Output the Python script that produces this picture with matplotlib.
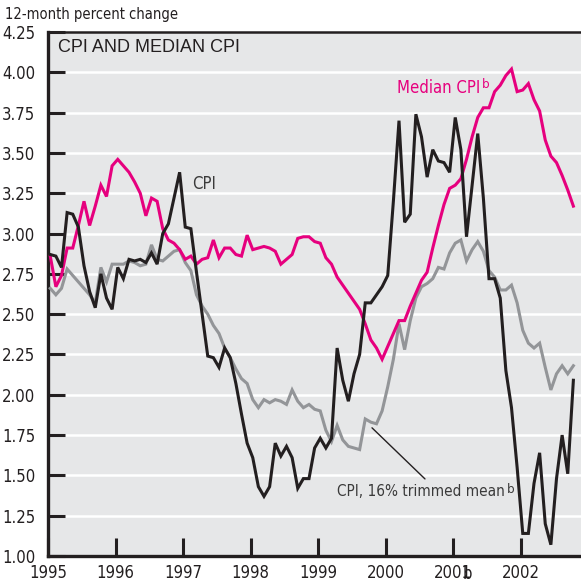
import numpy as np
import matplotlib
matplotlib.use("Agg")
import matplotlib.pyplot as plt

# 12-month percent change, monthly, Jan 1995 - Oct 2002
cpi = [2.87, 2.86, 2.79, 3.13, 3.12, 3.04, 2.80, 2.64, 2.54, 2.75, 2.60, 2.53,
       2.79, 2.72, 2.84, 2.83, 2.84, 2.82, 2.88, 2.81, 3.00, 3.06, 3.22, 3.38,
       3.04, 3.03, 2.76, 2.50, 2.24, 2.23, 2.17, 2.29, 2.23, 2.07, 1.88, 1.70,
       1.61, 1.43, 1.37, 1.43, 1.70, 1.62, 1.68, 1.61, 1.42, 1.48, 1.48, 1.67,
       1.73, 1.67, 1.73, 2.29, 2.09, 1.96, 2.13, 2.25, 2.57, 2.57, 2.62, 2.67,
       2.74, 3.20, 3.70, 3.07, 3.12, 3.74, 3.60, 3.35, 3.52, 3.45, 3.44, 3.38,
       3.72, 3.52, 2.98, 3.30, 3.62, 3.22, 2.72, 2.72, 2.60, 2.15, 1.92, 1.55,
       1.14, 1.14, 1.45, 1.64, 1.20, 1.07, 1.48, 1.75, 1.51, 2.09]

median_cpi = [2.86, 2.67, 2.74, 2.91, 2.91, 3.05, 3.20, 3.05, 3.17, 3.30, 3.23, 3.42,
              3.46, 3.42, 3.38, 3.32, 3.25, 3.11, 3.22, 3.20, 3.03, 2.96, 2.94, 2.90,
              2.84, 2.86, 2.81, 2.84, 2.85, 2.96, 2.85, 2.91, 2.91, 2.87, 2.86, 2.99,
              2.90, 2.91, 2.92, 2.91, 2.89, 2.81, 2.84, 2.87, 2.97, 2.98, 2.98, 2.95,
              2.94, 2.85, 2.81, 2.73, 2.68, 2.63, 2.58, 2.53, 2.44, 2.34, 2.29, 2.22,
              2.30, 2.38, 2.46, 2.46, 2.55, 2.63, 2.71, 2.76, 2.91, 3.05, 3.18, 3.28,
              3.30, 3.34, 3.46, 3.60, 3.72, 3.78, 3.78, 3.88, 3.92, 3.98, 4.02, 3.88,
              3.89, 3.93, 3.83, 3.76, 3.58, 3.48, 3.44, 3.36, 3.27, 3.17]

trimmed_mean = [2.66, 2.62, 2.66, 2.78, 2.74, 2.70, 2.66, 2.62, 2.57, 2.79, 2.70, 2.81,
                2.81, 2.81, 2.83, 2.82, 2.80, 2.81, 2.93, 2.84, 2.83, 2.86, 2.89, 2.90,
                2.82, 2.77, 2.62, 2.55, 2.50, 2.43, 2.38, 2.29, 2.23, 2.16, 2.10, 2.07,
                1.97, 1.92, 1.97, 1.95, 1.97, 1.96, 1.94, 2.03, 1.96, 1.92, 1.94, 1.91,
                1.90, 1.78, 1.71, 1.81, 1.72, 1.68, 1.67, 1.66, 1.85, 1.83, 1.82, 1.90,
                2.05, 2.22, 2.44, 2.28, 2.46, 2.60, 2.67, 2.69, 2.72, 2.79, 2.78, 2.88,
                2.94, 2.96, 2.83, 2.90, 2.95, 2.89, 2.77, 2.73, 2.65, 2.65, 2.68, 2.57,
                2.40, 2.32, 2.29, 2.32, 2.17, 2.03, 2.13, 2.18, 2.13, 2.18]

years = list(range(1995, 2003))
year_labels = [str(y) for y in years]
y_ticks = np.arange(1.0, 4.26, 0.25)

BLACK = "#231f20"
MAGENTA = "#e6007e"
GRAY = "#939598"
TEXT = "#3a3a3a"
BG = "#e6e7e8"

# narrow look for labels (no Helvetica Condensed available)
plt.rcParams["font.family"] = ["DejaVu Sans"]
plt.rcParams["font.stretch"] = "condensed"

months = np.arange(len(cpi))
x = 1995 + (months + 0.4) / 12

W, H = 581, 584
fig = plt.figure(figsize=(W / 100, H / 100), dpi=100)
ax = fig.add_axes([48 / W, 1 - 556 / H, 533 / W, 524 / H])
ax.set_facecolor(BG)

ax.set_xlim(1995, 1995 + 533 / 67.5)
ax.set_ylim(1.0, 4.25)

# white horizontal grid
for v in y_ticks[1:-1]:
    ax.axhline(v, color="white", lw=1.8, zorder=1)

ax.plot(x, trimmed_mean, color=GRAY, lw=2.2, zorder=3, solid_joinstyle="miter")
ax.plot(x, median_cpi, color=MAGENTA, lw=2.2, zorder=4, solid_joinstyle="miter")
ax.plot(x, cpi, color=BLACK, lw=2.2, zorder=5, solid_joinstyle="miter")

ax.set_yticks(y_ticks)
ax.set_yticklabels([f"{v:.2f}" for v in y_ticks])
ax.set_xticks(years)
ax.set_xticklabels(year_labels)
ax.tick_params(axis="y", direction="in", length=12, width=2.2, color=BLACK,
               pad=9, labelsize=12, labelcolor=BLACK)
ax.tick_params(axis="x", direction="in", length=13, width=2.2, color=BLACK,
               pad=6, labelsize=12, labelcolor=BLACK)

for side in ["left", "bottom"]:
    ax.spines[side].set_linewidth(2.4)
    ax.spines[side].set_color(BLACK)
ax.spines["top"].set_linewidth(1.8)
ax.spines["top"].set_color(BLACK)
ax.spines["right"].set_visible(False)

# stray footnote mark on the 2001 label
ax.annotate("b", xy=(2001, 0), xycoords=("data", "axes fraction"),
            xytext=(14, -18), textcoords="offset pixels",
            ha="center", va="center", fontsize=12, color=BLACK)

ax.text(0.019, 0.971, "CPI AND MEDIAN CPI", transform=ax.transAxes,
        ha="left", va="center", fontsize=13, color=BLACK,
        family=["Liberation Sans", "DejaVu Sans"], fontstretch="normal")
fig.text(5 / W, 1 - 15 / H, "12-month percent change", ha="left",
         va="center", fontsize=10.5, color=BLACK)

ax.text(1997.13, 3.31, "CPI", ha="left", va="center", fontsize=12,
        color=TEXT)
med = ax.text(2000.17, 3.90, "Median CPI", ha="left", va="center",
              fontsize=12, color=MAGENTA)
ax.annotate("b", xy=(1, 1), xycoords=med, xytext=(1.5, 1),
            textcoords="offset points", ha="left", va="top",
            fontsize=9.5, color=MAGENTA)
trim = ax.text(1999.28, 1.40, "CPI, 16% trimmed mean", ha="left",
               va="center", fontsize=11, color=TEXT)
ax.annotate("b", xy=(1, 1), xycoords=trim, xytext=(1.5, 1),
            textcoords="offset points", ha="left", va="top",
            fontsize=9.5, color=TEXT)
ax.annotate("", xy=(1999.80, 1.795), xytext=(2000.585, 1.478),
            arrowprops=dict(arrowstyle="-", color=BLACK, lw=1.0,
                            shrinkA=0, shrinkB=0))

fig.savefig("out.png", dpi=100)
